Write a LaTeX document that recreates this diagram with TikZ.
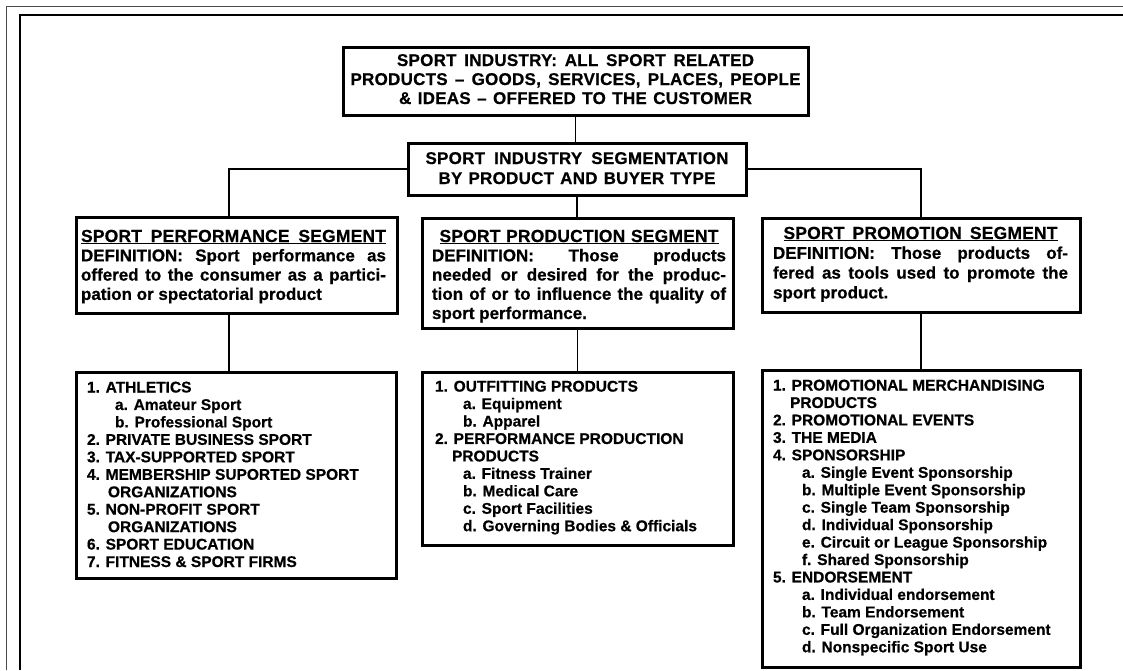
\documentclass[tikz,border=0pt]{standalone}
\usepackage{fontspec}
\setmainfont{Liberation Sans}
\newfontfamily\fTop[LetterSpace=1.5,BoldFeatures={FakeBold=0.6}]{Liberation Sans}
\newfontfamily\fHead[LetterSpace=1,BoldFeatures={FakeBold=0.6}]{Liberation Sans}
\newfontfamily\fBody[BoldFeatures={FakeBold=0.6}]{Liberation Sans}
\usetikzlibrary{calc}
\newcommand\JL[2]{\makebox[#1][s]{#2}}
\begin{document}
\begin{tikzpicture}[x=1pt,y=-1pt,
  bx/.style={draw, line width=3pt, anchor=north west, inner sep=0pt, outer sep=0pt},
  conn/.style={line width=1.5pt}]
\useasboundingbox (0,0) rectangle (1123,670);
\fill[white] (0,0) rectangle (1123,670);
\draw[line width=0.8pt, black!70] (6,670) -- (6,6) -- (1123,6);
\draw[line width=2.2pt] (20,670) -- (20,15) -- (1123,15);

% top
\node[bx] (top) at (343,47) {\parbox[c][68pt][t]{465pt}{\centering\fTop\bfseries\fontsize{17}{19}\selectfont
\rule{0pt}{19pt}\JL{357pt}{SPORT INDUSTRY: ALL SPORT RELATED}\\
\JL{450pt}{PRODUCTS – GOODS, SERVICES, PLACES, PEOPLE}\\
\JL{353pt}{\& IDEAS – OFFERED TO THE CUSTOMER}}};

\node[bx] (seg) at (408,143) {\parbox[c][52pt][t]{338pt}{\centering\fTop\bfseries\fontsize{17}{20}\selectfont
\rule{0pt}{21pt}\JL{303pt}{SPORT INDUSTRY SEGMENTATION}\\
\JL{277pt}{BY PRODUCT AND BUYER TYPE}}};

% definitions
\node[bx] (perf) at (76,217) {\parbox[c][96pt][t]{321pt}{\leftskip=5pt\relax\fBody\bfseries\fontsize{17}{19.3}\selectfont
\rule{0pt}{25pt}{\fHead\fontsize{17.5}{19.3}\selectfont\underline{\JL{305pt}{SPORT PERFORMANCE SEGMENT}}}\\
\JL{305pt}{DEFINITION: Sport performance as}\\
\JL{305pt}{offered to the consumer as a partici-}\\
pation or spectatorial product}};

\node[bx] (prod) at (422,218) {\parbox[c][110pt][t]{311pt}{\leftskip=10pt\relax\fBody\bfseries\fontsize{17}{19.25}\selectfont
\rule{0pt}{24pt}\makebox[294pt]{\fHead\fontsize{17.5}{19.25}\selectfont\underline{\JL{279pt}{SPORT PRODUCTION SEGMENT}}}\\
\JL{294pt}{DEFINITION: Those products}\\
\JL{294pt}{needed or desired for the produc-}\\
\JL{294pt}{tion of or to influence the quality of}\\
sport performance.}};

\node[bx] (prom) at (762,218) {\parbox[c][94pt][t]{318pt}{\leftskip=11pt\relax\fBody\bfseries\fontsize{17}{19.8}\selectfont
\rule{0pt}{21pt}\makebox[295pt]{\fHead\fontsize{17.5}{19.8}\selectfont\underline{\JL{274pt}{SPORT PROMOTION SEGMENT}}}\\
\JL{295pt}{DEFINITION: Those products of-}\\
\JL{295pt}{fered as tools used to promote the}\\
sport product.}};

% lists
\node[bx] (perfl) at (76,372) {\parbox[c][206pt][t]{320pt}{\leftskip=11pt\relax\fBody\bfseries\fontsize{15.5}{17.45}\selectfont
\rule{0pt}{20.5pt}1. ATHLETICS\\
\hspace*{28pt}a. Amateur Sport\\
\hspace*{28pt}b. Professional Sport\\
2. PRIVATE BUSINESS SPORT\\
3. TAX-SUPPORTED SPORT\\
4. MEMBERSHIP SUPORTED SPORT\\
\hspace*{21pt}ORGANIZATIONS\\
5. NON-PROFIT SPORT\\
\hspace*{21pt}ORGANIZATIONS\\
6. SPORT EDUCATION\\
7. FITNESS \& SPORT FIRMS}};

\node[bx] (prodl) at (422,372) {\parbox[c][173pt][t]{311pt}{\leftskip=13pt\relax\fBody\bfseries\fontsize{15.5}{17.45}\selectfont
\rule{0pt}{19.6pt}1. OUTFITTING PRODUCTS\\
\hspace*{28pt}a. Equipment\\
\hspace*{28pt}b. Apparel\\
2. PERFORMANCE PRODUCTION\\
\hspace*{17pt}PRODUCTS\\
\hspace*{28pt}a. Fitness Trainer\\
\hspace*{28pt}b. Medical Care\\
\hspace*{28pt}c. Sport Facilities\\
\hspace*{28pt}d. Governing Bodies \& Officials}};

\node[bx] (proml) at (762,370) {\parbox[c][297pt][t]{318pt}{\leftskip=11pt\relax\fBody\bfseries\fontsize{15.5}{17.45}\selectfont
\rule{0pt}{20.5pt}1. PROMOTIONAL MERCHANDISING\\
\hspace*{17pt}PRODUCTS\\
2. PROMOTIONAL EVENTS\\
3. THE MEDIA\\
4. SPONSORSHIP\\
\hspace*{29pt}a. Single Event Sponsorship\\
\hspace*{29pt}b. Multiple Event Sponsorship\\
\hspace*{29pt}c. Single Team Sponsorship\\
\hspace*{29pt}d. Individual Sponsorship\\
\hspace*{29pt}e. Circuit or League Sponsorship\\
\hspace*{29pt}f. Shared Sponsorship\\
5. ENDORSEMENT\\
\hspace*{29pt}a. Individual endorsement\\
\hspace*{29pt}b. Team Endorsement\\
\hspace*{29pt}c. Full Organization Endorsement\\
\hspace*{29pt}d. Nonspecific Sport Use}};

% connectors
\draw[conn] (top.south) -- (top.south |- seg.north);
\draw[conn] (seg.west) -| ([xshift=-7.5pt]perf.north);
\draw[conn] (seg.east) -| (prom.north);
\draw[conn] (seg.south) -- (seg.south |- prod.north);
\draw[conn] ([xshift=-7.5pt]perf.south) -- ([xshift=-7.5pt]perf.south |- perfl.north);
\draw[conn] (prod.south) -- (prod.south |- prodl.north);
\draw[conn] (prom.south) -- (prom.south |- proml.north);
\end{tikzpicture}
\end{document}
